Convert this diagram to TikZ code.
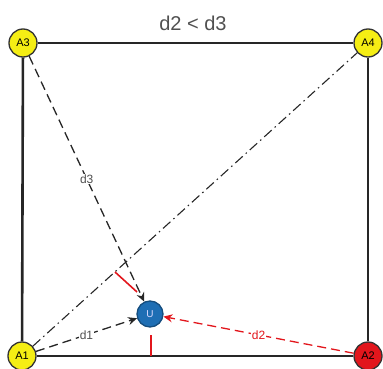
\documentclass[tikz,border=0pt]{standalone}
\usepackage{fontspec}
\setmainfont{Liberation Sans}
\usepackage{xcolor}
\definecolor{anchoryellow}{RGB}{245,238,20}
\definecolor{anchorred}{RGB}{226,22,28}
\definecolor{userblue}{RGB}{30,110,180}
\definecolor{labelgray}{RGB}{80,80,80}
\usetikzlibrary{arrows.meta}

\tikzset{
  beacon/.style={circle, draw=black!80, line width=1.3pt, minimum size=28pt,
    inner sep=0pt, font=\fontsize{11}{11}\selectfont},
  rangeline/.style={line width=1.3pt, dash pattern=on 9pt off 5pt},
  rangelabel/.style={fill=white, inner sep=1pt, font=\fontsize{12}{12}\selectfont}
}

\begin{document}
\begin{tikzpicture}[x=1pt, y=-1pt]
\useasboundingbox (0,0) rectangle (383,369);

% Title
\node[font=\fontsize{20}{20}\selectfont, text=labelgray] (title) at (193,23) {d2 < d3};

% === Anchors ===
\node[beacon, fill=anchoryellow] (a3) at (23,43) {A3};
\node[beacon, fill=anchoryellow] (a4) at (368,43) {A4};
\node[beacon, fill=anchoryellow] (a1) at (22,356) {A1};
\node[beacon, fill=anchorred] (a2) at (368,356) {A2};

% User
\node[circle, draw=userblue!70!black, line width=1.3pt, fill=userblue, minimum size=26pt,
      inner sep=0pt, text=white!85!blue, font=\fontsize{10}{10}\selectfont] (user) at (150,314) {U};

% Room outline
\draw[line width=2.6pt, black!85] (a3) -- (a4);
\draw[line width=2.6pt, black!85] (a4) -- (a2);
\draw[line width=2.6pt, black!85] (a2) -- (a1);
\draw[line width=2.6pt, black!85] (a1) -- (a3);

% Diagonal
\draw[line width=1.1pt, black!85, dash pattern=on 10pt off 4pt on 1.5pt off 4pt] (a1) -- (a4);

% Distances
\draw[rangeline, black!85, -{Stealth[length=9pt,width=8pt]}] (a3) -- (user)
     node[rangelabel, text=labelgray, pos=0.5] {d3};
\draw[rangeline, black!85, -{Stealth[length=9pt,width=8pt]}] (a1) -- (user)
     node[rangelabel, text=labelgray, pos=0.5] {d1};
\draw[rangeline, anchorred, -{Stealth[length=9pt,width=8pt]}] (a2) -- (user)
     node[rangelabel, text=anchorred, pos=0.5] {d2};

% Red marks
\coordinate (marka) at (115,272);
\coordinate (markb) at (137,292);
\coordinate (markc) at (151,335);
\coordinate (markd) at (151,356);
\draw[anchorred, line width=1.6pt] (marka) -- (markb);
\draw[anchorred, line width=1.6pt] (markc) -- (markd);

\end{tikzpicture}
\end{document}
